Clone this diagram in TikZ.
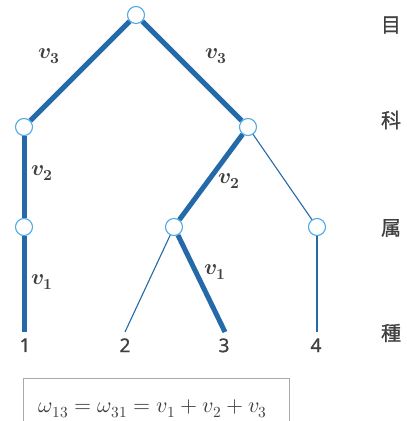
\documentclass[tikz,border=0pt]{standalone}
\usepackage{fontspec}
\setmainfont{Noto Sans}[FakeBold=0.8]
\newfontfamily\jpfont{Noto Sans CJK JP}[FakeBold=0.8]
\usepackage{unicode-math}
\setmathfont{Latin Modern Math}

\definecolor{branch}{RGB}{36,106,168}
\definecolor{ring}{RGB}{80,170,230}
\definecolor{ink}{RGB}{64,64,64}
\definecolor{frame}{RGB}{170,170,170}

\tikzset{every picture/.style={line width=0.75pt}}
\tikzset{
  taxon/.style={circle, draw=ring, fill=white, line width=1.1pt, minimum size=17pt, inner sep=0pt},
  thick branch/.style={draw=branch, line width=5pt},
  thin branch/.style={draw=branch, line width=1.1pt},
  leaflabel/.style={anchor=north, inner sep=0pt, text=ink, font=\fontsize{19}{19}\selectfont},
  rank/.style={anchor=center, inner sep=0pt, text=ink, font=\jpfont\fontsize{20}{20}\selectfont},
  vlabel/.style={inner sep=0pt, text=ink, font=\fontsize{22}{22}\selectfont}
}
\newcommand{\bv}[1]{\symbfit{v}_{\symbf{#1}}}

\begin{document}
\begin{tikzpicture}[x=1pt,y=1pt,yscale=-1]
\useasboundingbox (0,0) rectangle (407,421);

% nodes of the tree
\node[taxon] (order) at (136,15) {};
\node[taxon] (famA) at (24,127) {};
\node[taxon] (famB) at (248,127) {};
\node[taxon] (genA) at (24,227) {};
\node[taxon] (genB) at (174,227) {};
\node[taxon] (genC) at (317,227) {};
% branch ends at the species
\coordinate (sp1) at (24,332);
\coordinate (sp2) at (125,332);
\coordinate (sp3) at (225,332);
\coordinate (sp4) at (317,332);

% branches
\draw[thick branch] (order) -- (famA);
\draw[thick branch] (order) -- (famB);
\draw[thick branch] (famA) -- (genA);
\draw[thick branch] (famB) -- (genB);
\draw[thin branch] (famB) -- (genC);
\draw[thick branch] (genA) -- (sp1);
\draw[thin branch] (genB) -- (sp2);
\draw[thick branch] (genB) -- (sp3);
\draw[thin branch] (genC) -- (sp4);

% branch lengths
\node[vlabel] (l3a) at (49,56) {$\bv{3}$};
\node[vlabel] (l3b) at (216,56) {$\bv{3}$};
\node[vlabel] (l2a) at (42,173) {$\bv{2}$};
\node[vlabel] (l2b) at (229,181) {$\bv{2}$};
\node[vlabel] (l1a) at (42,282) {$\bv{1}$};
\node[vlabel] (l1b) at (215,272) {$\bv{1}$};

% species
\node[leaflabel] (n1) at (25,338) {1};
\node[leaflabel] (n2) at (125,338) {2};
\node[leaflabel] (n3) at (224,338) {3};
\node[leaflabel] (n4) at (316,338) {4};

% ranks
\node[rank] (r1) at (391,25) {目};
\node[rank] (r2) at (391,120) {科};
\node[rank] (r3) at (391,228) {属};
\node[rank] (r4) at (391,333) {種};

% formula box
\draw[frame, line width=0.8pt] (23,425) -- (23,378) -- (289,378) -- (289,425);
\node[vlabel] (eq) at (153,409) {$\omega_{13}=\omega_{31}=v_1+v_2+v_3$};

\end{tikzpicture}
\end{document}
